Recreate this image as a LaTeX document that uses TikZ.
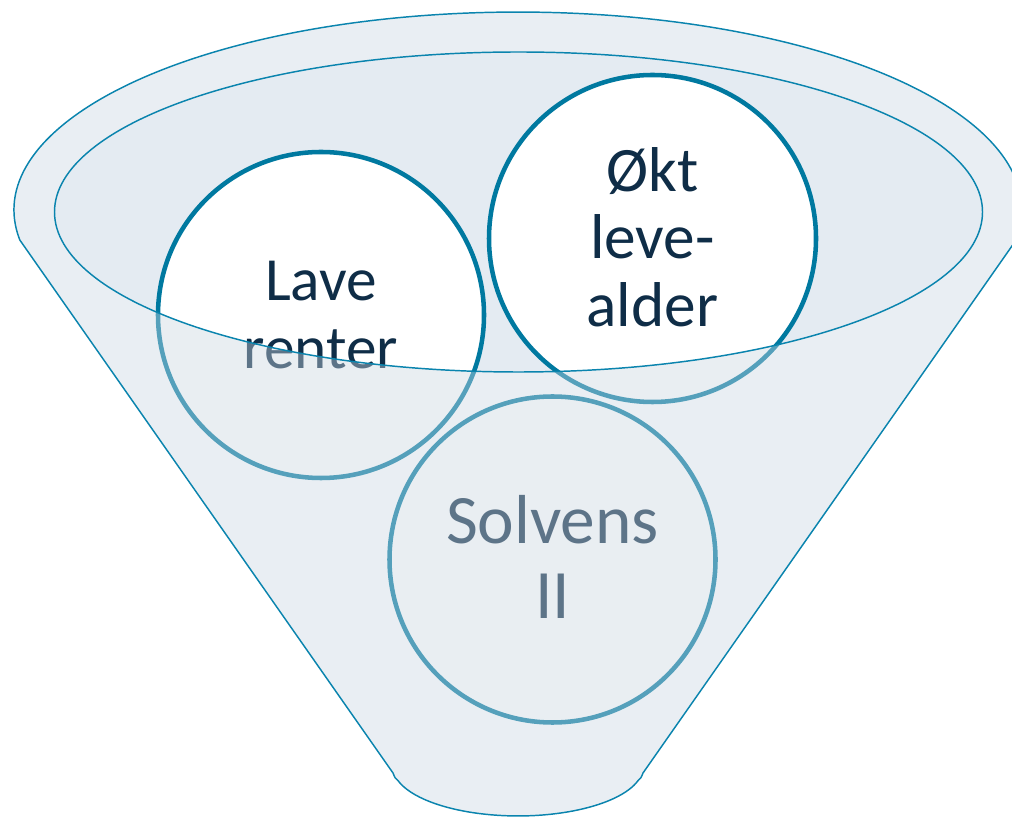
\documentclass[tikz,border=0pt]{standalone}
\usepackage{fontspec}
\setmainfont{Carlito}
\definecolor{funline}{HTML}{0A84AE}
\definecolor{ringline}{HTML}{0079A0}
\definecolor{innerfill}{HTML}{E4EBF2}
\definecolor{veil}{HTML}{CBD7E2}
\definecolor{txtdark}{HTML}{0F2D47}
\begin{document}
\begin{tikzpicture}[x=0.75pt,y=0.75pt,
  bubble/.style={circle,draw=ringline,line width=3.4pt,fill=white,inner sep=0pt,minimum size=#1*0.75pt},
  label txt/.style={align=center,text=txtdark,inner sep=0pt},
  funline style/.style={draw=funline,line width=1.1pt}]
\useasboundingbox (0,0) rectangle (1012,817);
% inner opening of the funnel
\fill[innerfill] (518.5,605) ellipse[x radius=464,y radius=160];
% circles
\node[bubble=326] (lave) at (321,502) {};
\node[bubble=327] (okt) at (652.5,578.5) {};
\node[bubble=326] (solv) at (552.5,257.5) {};
\node[label txt,font=\fontsize{46}{51}\selectfont] (lavet) at (321,502) {Lave\\renter};
\node[label txt,font=\fontsize{47.5}{50.5}\selectfont] (oktt) at (652.5,580) {Økt\\leve-\\alder};
\node[label txt,font=\fontsize{52}{56}\selectfont] (solvt) at (552.5,260) {Solvens\\II};
% translucent funnel body
\fill[veil,fill opacity=0.42,even odd rule]
  (19.8,577) arc[start angle=188.7,end angle=-8.7,x radius=504,y radius=198]
  -- (643,44) .. controls (641,39) .. (638,36.3)
  arc[start angle=-16.3,end angle=-163.7,x radius=125,y radius=49]
  .. controls (395,39) .. (393,44) -- cycle
  (518.5,605) ellipse[x radius=464,y radius=160];
% outlines
\draw[funline style]
  (19.8,577) arc[start angle=188.7,end angle=-8.7,x radius=504,y radius=198]
  -- (643,44) .. controls (641,39) .. (638,36.3)
  arc[start angle=-16.3,end angle=-163.7,x radius=125,y radius=49]
  .. controls (395,39) .. (393,44) -- cycle;
\draw[funline style] (518.5,605) ellipse[x radius=464,y radius=160];
\end{tikzpicture}
\end{document}
